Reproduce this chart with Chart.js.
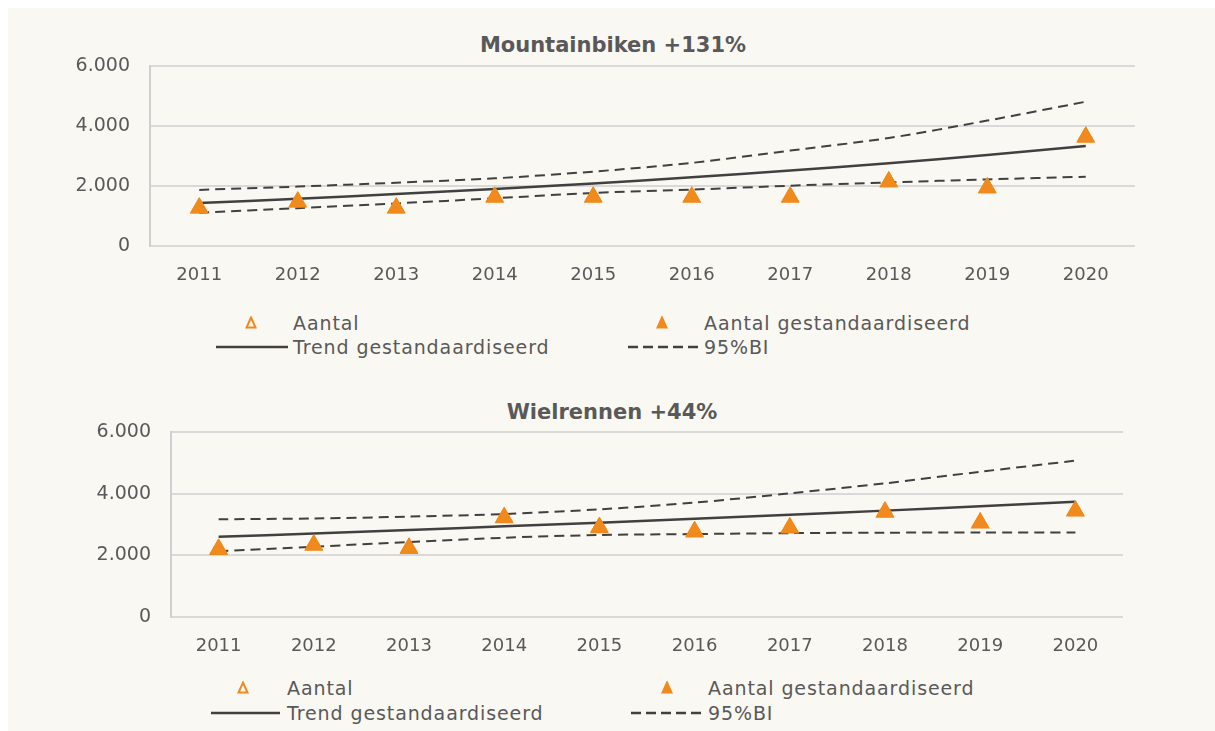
<!DOCTYPE html>
<html lang="nl">
<head>
  <meta charset="UTF-8">
  <title>Mountainbiken en wielrennen</title>
  <script src="https://cdn.jsdelivr.net/npm/chart.js"></script>
  <style>
    body { margin: 8px; background: #fff; overflow: hidden; font-family: "DejaVu Sans", sans-serif; color: #595959; }
    .panel { position: absolute; left: 8px; top: 8px; width: 1207px; height: 723px; background: #faf8f2; }
    canvas { position: absolute; }
    .title { position: absolute; font-weight: bold; font-size: 21px; line-height: 24px; transform: translateX(-50%); white-space: nowrap; }
    .lg { position: absolute; font-size: 19px; letter-spacing: 0.9px; line-height: 20px; white-space: nowrap; }
    .mk { position: absolute; }
  </style>
</head>
<body>
  <div class="panel">
    <div class="title" style="left:605px; top:25px;">Mountainbiken +131%</div>
    <canvas id="mtbChart" width="1120" height="260" style="left:32px; top:22px;"></canvas>
    <div id="mtbLegend"></div>

    <div class="title" style="left:604px; top:392px;">Wielrennen +44%</div>
    <canvas id="wrChart" width="1090" height="270" style="left:52px; top:392px;"></canvas>
    <div id="wrLegend"></div>
  </div>

  <script>
    const years = ["2011", "2012", "2013", "2014", "2015", "2016", "2017", "2018", "2019", "2020"];
    const yTicks = [0, 2000, 4000, 6000];

    // Mountainbiken
    const mtbAantal = [1270, 1470, 1270, 1630, 1630, 1630, 1630, 2140, 1940, 3630];
    const mtbStd    = [1270, 1470, 1270, 1630, 1630, 1630, 1630, 2140, 1940, 3630];
    const mtbTrend  = [1430, 1575, 1730, 1900, 2085, 2290, 2515, 2760, 3035, 3330];
    const mtbUpper  = [1870, 1980, 2110, 2255, 2480, 2770, 3180, 3600, 4180, 4810];
    const mtbLower  = [1110, 1260, 1420, 1590, 1770, 1880, 2010, 2120, 2220, 2310];

    // Wielrennen
    const wrAantal = [2190, 2325, 2225, 3215, 2895, 2760, 2885, 3400, 3045, 3435];
    const wrStd    = [2210, 2345, 2245, 3235, 2915, 2780, 2905, 3415, 3060, 3450];
    const wrTrend  = [2600, 2710, 2820, 2940, 3060, 3185, 3315, 3450, 3595, 3740];
    const wrUpper  = [3170, 3195, 3255, 3340, 3490, 3710, 4010, 4335, 4710, 5070];
    const wrLower  = [2130, 2280, 2430, 2570, 2660, 2690, 2720, 2735, 2740, 2740];

    const orange = "#f08a1c";
    const dark = "#404040";
    const textColor = "#595959";
    const font = "'DejaVu Sans', sans-serif";

    function fmt(v) {
      return String(v).replace(/\B(?=(\d{3})+(?!\d))/g, ".");
    }

    function makeChart(id, series, box) {
      const ctx = document.getElementById(id).getContext("2d");
      return new Chart(ctx, {
        type: "line",
        data: {
          labels: years,
          datasets: [
            { label: "Aantal gestandaardiseerd", data: series.std, showLine: false, pointStyle: "triangle",
              pointRadius: 10, pointHoverRadius: 10, pointBackgroundColor: orange, pointBorderColor: orange, pointBorderWidth: 1, order: 1 },
            { label: "Aantal", data: series.aantal, showLine: false, pointStyle: "triangle",
              pointRadius: 9, pointHoverRadius: 9, pointBackgroundColor: "#faf8f2", pointBorderColor: orange, pointBorderWidth: 2, order: 2 },
            { label: "Trend gestandaardiseerd", data: series.trend, borderColor: dark, borderWidth: 2.5,
              pointRadius: 0, tension: 0.3, order: 3 },
            { label: "95%BI", data: series.upper, borderColor: dark, borderWidth: 2, borderDash: [10, 6],
              pointRadius: 0, tension: 0.3, order: 4 },
            { label: "95%BI ", data: series.lower, borderColor: dark, borderWidth: 2, borderDash: [10, 6],
              pointRadius: 0, tension: 0.3, order: 5 }
          ]
        },
        options: {
          responsive: false,
          animation: false,
          layout: { padding: { left: 0, top: box.top, right: box.right, bottom: 0 } },
          plugins: { legend: { display: false }, tooltip: { enabled: false } },
          scales: {
            x: {
              offset: true,
              grid: { display: false, offset: true },
              border: { display: false },
              ticks: { color: textColor, font: { family: font, size: 18 }, padding: 11, maxRotation: 0 },
              afterFit: s => { s.height = box.xh; s.paddingLeft = 0; s.paddingRight = 0; }
            },
            y: {
              min: 0, max: 6000,
              afterBuildTicks: s => { s.ticks = yTicks.map(v => ({ value: v })); },
              grid: { color: "#d9d9d9", lineWidth: 2, drawTicks: false },
              border: { display: true, color: "#d0d0d0", width: 2 },
              ticks: { color: textColor, font: { family: font, size: 19 }, padding: 20, callback: v => fmt(v) },
              afterFit: s => { s.width = box.yw; }
            }
          }
        }
      });
    }

    function tri(x, y, filled) {
      const fill = filled ? orange : "none";
      return `<svg class="mk" style="left:${x - 6}px; top:${y - 7}px;" width="12" height="13">
        <polygon points="6,1.5 10.5,11.5 1.5,11.5" fill="${fill}" stroke="${orange}" stroke-width="2" stroke-linejoin="miter"/></svg>`;
    }

    function line(x1, x2, y, dashed) {
      const w = x2 - x1;
      const dash = dashed ? `stroke-dasharray="10,5"` : "";
      return `<svg class="mk" style="left:${x1}px; top:${y - 3}px;" width="${w + 4}" height="6">
        <line x1="0" y1="3" x2="${w}" y2="3" stroke="${dark}" stroke-width="2.5" ${dash}/></svg>`;
    }

    function text(x, y, s) {
      return `<div class="lg" style="left:${x}px; top:${y - 10}px;">${s}</div>`;
    }

    // page coordinates minus the 8px body margin
    function renderLegend(id, L) {
      const o = 8;
      document.getElementById(id).innerHTML =
        tri(L.m1 - o, L.r1 - o, false) + text(L.t1 - o, L.r1 - o, "Aantal") +
        tri(L.m2 - o, L.r1 - o, true) + text(L.t2 - o, L.r1 - o, "Aantal gestandaardiseerd") +
        line(L.l1a - o, L.l1b - o, L.r2 - o, false) + text(L.t1 - o, L.r2 - o, "Trend gestandaardiseerd") +
        line(L.l2a - o, L.l2b - o, L.r2 - o, true) + text(L.t2 - o, L.r2 - o, "95%BI");
    }

    makeChart("mtbChart",
      { std: mtbStd, aantal: mtbAantal, trend: mtbTrend, upper: mtbUpper, lower: mtbLower },
      { top: 36, right: 25, yw: 110, xh: 44 });
    makeChart("wrChart",
      { std: wrStd, aantal: wrAantal, trend: wrTrend, upper: wrUpper, lower: wrLower },
      { top: 32, right: 27, yw: 111, xh: 53 });

    renderLegend("mtbLegend", { r1: 323, r2: 347, m1: 251, m2: 662, t1: 293, t2: 704, l1a: 216, l1b: 288, l2a: 628, l2b: 699 });
    renderLegend("wrLegend", { r1: 688, r2: 713, m1: 243, m2: 667, t1: 287, t2: 708, l1a: 211, l1b: 280, l2a: 631, l2b: 702 });
  </script>
</body>
</html>
